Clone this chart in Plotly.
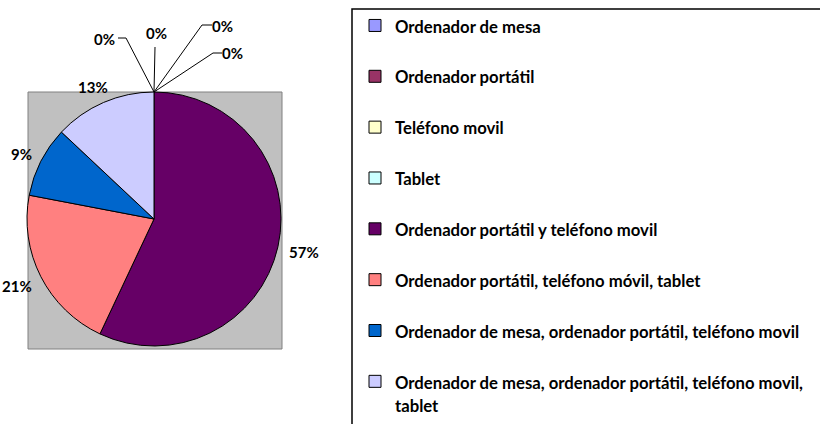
import math
import plotly.graph_objects as go

# ---- data ----
categories = [
    "Ordenador de mesa",
    "Ordenador portátil",
    "Teléfono movil",
    "Tablet",
    "Ordenador portátil y teléfono movil",
    "Ordenador portátil, teléfono móvil, tablet",
    "Ordenador de mesa, ordenador portátil, teléfono movil",
    "Ordenador de mesa, ordenador portátil, teléfono movil, tablet",
]
values = [0, 0, 0, 0, 57, 21, 9, 13]
colors = ["#9999FF", "#993366", "#FFFFCC", "#CCFFFF",
          "#660066", "#FF8080", "#0066CC", "#CCCCFF"]

# ---- layout constants (screen pixels) ----
W, H = 820, 424
FONT = "Lato, 'Open Sans', sans-serif"
LABEL_SIZE = 15
LEG_SIZE = 16.7
pie_cx, pie_cy, pie_r = 154, 219, 127


def px(x):
    return x / W


def py(y):
    return 1 - y / H


def legend_label(name):
    span = f"<span style='font-size:{LEG_SIZE}px'>"
    if name.endswith("teléfono movil, tablet"):
        head = name[: -len(" tablet")]
        return f"{span}{head}</span><br>{span}tablet</span>"
    return f"{span}{name}</span><br> "


total = sum(values)

fig = go.Figure()
fig.add_trace(go.Pie(
    labels=[legend_label(c) for c in categories],
    values=values,
    textinfo="none",
    sort=False,
    direction="clockwise",
    rotation=0,
    marker=dict(colors=colors, line=dict(color="#000000", width=1)),
    domain=dict(x=[px(pie_cx - pie_r), px(pie_cx + pie_r)],
                y=[py(pie_cy + pie_r), py(pie_cy - pie_r)]),
    hoverinfo="skip",
    showlegend=True,
))

shapes = [
    # gray plot area
    dict(type="rect", xref="paper", yref="paper", layer="below",
         x0=px(28), x1=px(282), y0=py(349), y1=py(92),
         fillcolor="#C0C0C0", line=dict(color="#808080", width=1)),
    # legend frame
    dict(type="rect", xref="paper", yref="paper", layer="above",
         x0=px(352), x1=px(845), y0=py(450), y1=py(9),
         fillcolor="rgba(0,0,0,0)", line=dict(color="#000000", width=1.5)),
]

annotations = []
label_font = dict(family=FONT, size=LABEL_SIZE, color="#000000", weight="bold")

# percentage labels outside the pie, placed from each slice's mid-angle
cum = 0
for v in values:
    if v > 0:
        mid = math.radians((cum + v / 2) / total * 360)
        dx, dy = math.sin(mid), -math.cos(mid)
        txt = f"{round(100 * v / total)}%"
        w = 0.66 * LABEL_SIZE * len(txt)
        h = 12
        rr = pie_r + 12
        lx = pie_cx + rr * dx + dx * w / 2
        ly = pie_cy + rr * dy + dy * h / 2 + 1
        annotations.append(dict(x=px(lx), y=py(ly), xref="paper", yref="paper",
                                text=txt, showarrow=False, xanchor="center",
                                yanchor="middle", font=label_font))
    cum += v

# zero-value labels with leader lines from the top of the pie
zero_label_pos = [(104, 39), (156, 33), (222, 26), (233, 53)]
zero_leader_pts = [[(126, 38), (118, 38)], [(155, 47)],
                   [(202, 25), (212, 25)], [(213, 53), (222, 53)]]
top = (pie_cx, pie_cy - pie_r)
zi = 0
for v in values:
    if v == 0 and zi < len(zero_label_pos):
        lx, ly = zero_label_pos[zi]
        pts = [top] + zero_leader_pts[zi]
        path = "M " + " L ".join(f"{px(x)},{py(y)}" for x, y in pts)
        shapes.append(dict(type="path", xref="paper", yref="paper", path=path,
                           line=dict(color="#000000", width=1)))
        annotations.append(dict(
            x=px(lx), y=py(ly), xref="paper", yref="paper",
            text=f"{v}%", showarrow=False, xanchor="center", yanchor="middle",
            font=label_font))
        zi += 1

fig.update_layout(
    width=W, height=H,
    margin=dict(l=0, r=0, t=0, b=0),
    paper_bgcolor="#FFFFFF",
    plot_bgcolor="#FFFFFF",
    shapes=shapes,
    annotations=annotations,
    legend=dict(
        x=px(355), y=py(9), xanchor="left", yanchor="top",
        bgcolor="rgba(0,0,0,0)", borderwidth=0,
        valign="top", traceorder="normal",
        font=dict(family=FONT, size=18.4, color="#000000", weight="bold"),
    ),
)

fig.write_html("out.html",
               config={"displayModeBar": False},
               post_script="document.body.style.margin='0';"
                           "document.body.style.overflow='hidden';")
